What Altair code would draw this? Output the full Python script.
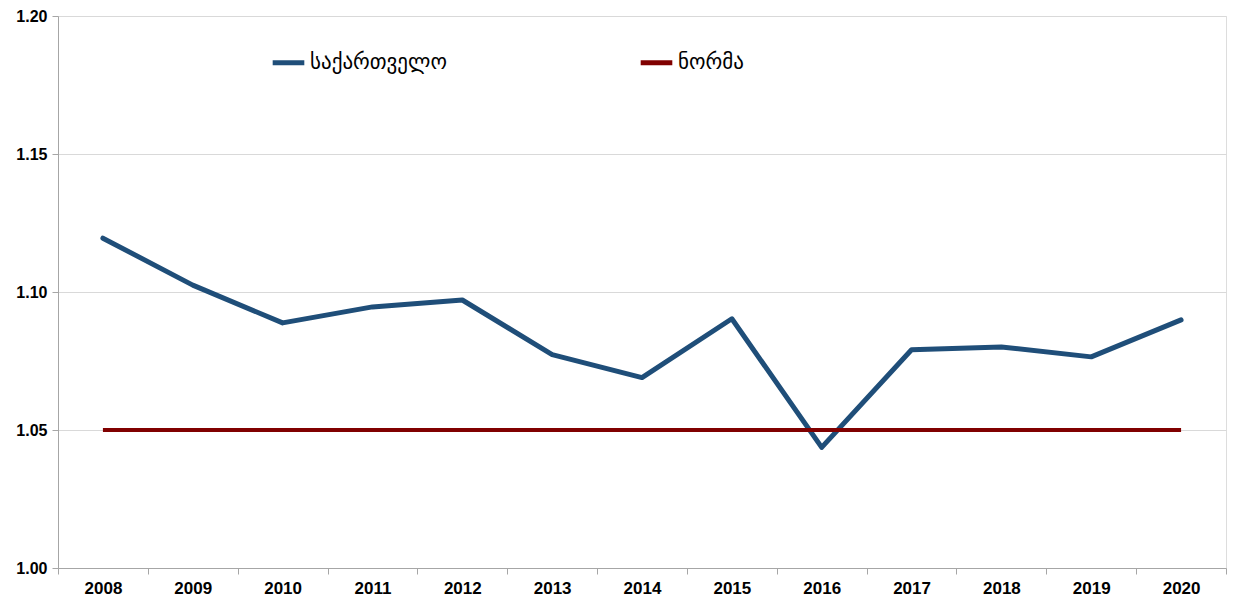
import altair as alt
import pandas as pd

years = ["2008", "2009", "2010", "2011", "2012", "2013", "2014",
         "2015", "2016", "2017", "2018", "2019", "2020"]
georgia = [1.1195, 1.1025, 1.0888, 1.0946, 1.0971, 1.0773, 1.0690,
           1.0903, 1.0437, 1.0791, 1.0801, 1.0765, 1.0899]
norm = [1.05] * len(years)
series_names = ["საქართველო", "ნორმა"]
series_colors = ["#1F4E79", "#800000"]

rows = []
for y, g in zip(years, georgia):
    rows.append({"year": y, "value": g, "series": series_names[0]})
for y, n in zip(years, norm):
    rows.append({"year": y, "value": n, "series": series_names[1]})
df = pd.DataFrame(rows)

color = alt.Color(
    "series:N",
    scale=alt.Scale(domain=series_names, range=series_colors),
    legend=alt.Legend(
        title=None, orient="none", legendX=212, legendY=28,
        direction="horizontal", columns=2, columnPadding=183,
        symbolType="stroke", symbolStrokeWidth=5, symbolSize=1000,
        labelFont="DejaVu Sans", labelFontSize=21, labelColor="#000000",
        labelOffset=3, labelLimit=400,
    ),
)

x = alt.X("year:O", sort=years, title=None,
          scale=alt.Scale(paddingInner=0, paddingOuter=0),
          axis=alt.Axis(labelAngle=0, labelFont="Liberation Sans",
                        labelFontSize=17, labelFontWeight="bold",
                        labelColor="#000000", labelPadding=6,
                        tickBand="extent", tickSize=6, tickColor="#A6A6A6",
                        domainColor="#A6A6A6", grid=False))
y = alt.Y("value:Q", title=None,
          scale=alt.Scale(domain=[1.0, 1.2], nice=False, zero=False),
          axis=alt.Axis(values=[1.0, 1.05, 1.1, 1.15, 1.2], format=".2f",
                        labelFont="Liberation Sans", labelFontSize=16,
                        labelFontWeight="bold", labelColor="#000000",
                        tickSize=6, tickColor="#A6A6A6", labelPadding=5,
                        domainColor="#A6A6A6", gridColor="#D9D9D9"))

georgia_line = alt.Chart(df).transform_filter(
    alt.datum.series == series_names[0]
).mark_line(strokeWidth=5, strokeCap="round", strokeJoin="round").encode(x=x, y=y, color=color)
norm_line = alt.Chart(df).transform_filter(
    alt.datum.series == series_names[1]
).mark_line(strokeWidth=4).encode(x=x, y=y, color=color)

chart = alt.layer(georgia_line, norm_line).properties(
    width=1168, height=552,
    autosize=alt.AutoSizeParams(type="none"),
    padding={"left": 50, "top": 8, "right": 5, "bottom": 32},
).configure_view(stroke=None).configure(background="#FFFFFF")

chart.save("out.html", embed_options={"renderer": "svg", "actions": False})
